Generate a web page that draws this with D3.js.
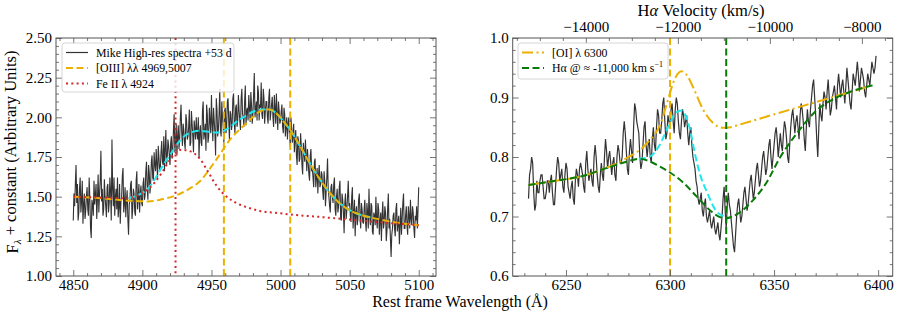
<!DOCTYPE html>
<html>
<head>
<meta charset="utf-8">
<script src="https://cdn.jsdelivr.net/npm/d3@7"></script>
<style>
  body { margin: 0; background: #fff; }
  svg text { font-family: "Liberation Serif", "DejaVu Serif", serif; fill: #000; }
  .axis path, .axis line { stroke: #555; }
</style>
</head>
<body>
<svg id="chart" width="897" height="311"></svg>
<script>
// ---- data ----
const leftStart = 4850;   // whole-Angstrom samples
const leftFlux = [
  1.35, 1.44, 1.70, 1.58, 1.40, 1.62, 1.47, 1.33, 1.52, 1.41,
  1.56, 1.38, 1.49, 1.24, 1.45, 1.60, 1.51, 1.36, 1.64, 1.52,
  1.79, 1.55, 1.42, 1.50, 1.37, 1.58, 1.46, 1.53, 1.86, 1.44,
  1.38, 1.55, 1.62, 1.43, 1.33, 1.50, 1.68, 1.45, 1.37, 1.54,
  1.26, 1.48, 1.60, 1.42, 1.52, 1.38, 1.66, 1.49, 1.40, 1.57,
  1.44, 1.62, 1.51, 1.72, 1.48, 1.65, 1.58, 1.76, 1.60, 1.70,
  1.80, 1.62, 1.75, 1.68, 1.85, 1.70, 1.66, 1.92, 1.74, 1.82,
  1.70, 1.88, 1.79, 2.02, 1.84, 1.76, 1.95, 1.86, 2.08, 1.82,
  1.92, 1.80, 1.98, 1.88, 2.05, 1.84, 1.96, 1.78, 1.93, 2.00,
  1.86, 1.74, 1.95, 1.82, 2.10, 1.90, 1.79, 2.02, 1.88, 1.97,
  2.14, 1.85, 1.98, 1.76, 2.05, 1.92, 2.18, 1.88, 2.00, 1.84,
  2.06, 1.94, 2.12, 1.86, 2.02, 1.96, 2.15, 1.90, 2.08, 1.98,
  2.04, 1.92, 2.18, 2.00, 2.10, 1.95, 2.06, 2.14, 1.97, 2.08,
  2.02, 2.28, 2.05, 1.98, 2.16, 2.08, 2.22, 1.99, 2.12, 2.04,
  2.10, 1.96, 2.18, 2.03, 2.13, 1.94, 2.06, 2.15, 1.92, 2.04,
  1.98, 2.08, 1.90, 2.02, 1.94, 1.86, 2.00, 1.82, 1.94, 1.88,
  1.78, 1.92, 1.70, 1.85, 1.74, 1.82, 1.64, 1.78, 1.86, 1.66,
  1.72, 1.60, 1.80, 1.68, 1.56, 1.74, 1.62, 1.52, 1.70, 1.58,
  1.64, 1.48, 1.60, 1.53, 1.74, 1.50, 1.40, 1.58, 1.46, 1.62,
  1.38, 1.55, 1.44, 1.60, 1.35, 1.48, 1.27, 1.52, 1.42, 1.60,
  1.46, 1.34, 1.56, 1.40, 1.25, 1.44, 1.36, 1.52, 1.30, 1.42,
  1.33, 1.48, 1.28, 1.40, 1.55, 1.32, 1.44, 1.26, 1.38, 1.50,
  1.30, 1.42, 1.35, 1.22, 1.47, 1.34, 1.40, 1.28, 1.52, 1.36,
  1.12, 1.30, 1.40, 1.25, 1.46, 1.33, 1.20, 1.43, 1.36, 1.52,
  1.30, 1.44, 1.26, 1.38, 1.48, 1.32, 1.40, 1.24, 1.35, 1.30,
  1.56
];
// samples at +0.5 A between the whole-Angstrom ones
const leftFluxHalf = [
  1.52, 1.58, 1.46, 1.35, 1.55, 1.40, 1.60, 1.45, 1.36, 1.50,
  1.42, 1.62, 1.30, 1.48, 1.38, 1.45, 1.58, 1.49, 1.40, 1.60,
  1.47, 1.38, 1.61, 1.44, 1.56, 1.40, 1.62, 1.35, 1.55, 1.62,
  1.50, 1.42, 1.37, 1.58, 1.47, 1.63, 1.40, 1.56, 1.48, 1.36,
  1.45, 1.58, 1.36, 1.55, 1.40, 1.60, 1.42, 1.58, 1.52, 1.46,
  1.58, 1.48, 1.66, 1.56, 1.70, 1.52, 1.72, 1.62, 1.78, 1.66,
  1.70, 1.82, 1.66, 1.78, 1.72, 1.88, 1.80, 1.70, 1.86, 1.76,
  1.84, 1.74, 1.92, 1.78, 1.96, 1.88, 1.80, 2.00, 1.90, 1.96,
  1.84, 2.02, 1.86, 1.94, 1.82, 2.04, 1.88, 1.98, 1.86, 1.90,
  2.00, 1.90, 1.84, 2.04, 1.86, 1.96, 2.08, 1.84, 2.06, 1.90,
  1.96, 2.06, 1.90, 2.12, 1.88, 2.02, 1.92, 2.10, 1.94, 2.04,
  1.90, 2.10, 1.98, 2.04, 1.92, 2.12, 1.96, 2.06, 1.94, 2.14,
  1.98, 2.12, 2.02, 1.94, 2.20, 2.04, 1.98, 2.06, 2.16, 1.96,
  2.14, 2.00, 2.10, 2.20, 1.98, 2.06, 2.02, 2.18, 1.96, 2.10,
  2.00, 2.12, 1.98, 2.08, 2.00, 2.14, 1.96, 2.02, 2.10, 1.96,
  2.04, 1.94, 2.06, 1.88, 2.00, 1.96, 1.90, 2.00, 1.84, 1.96,
  1.86, 1.76, 1.88, 1.72, 1.90, 1.70, 1.84, 1.72, 1.76, 1.80,
  1.64, 1.76, 1.66, 1.62, 1.72, 1.56, 1.68, 1.64, 1.56, 1.66,
  1.54, 1.66, 1.44, 1.62, 1.55, 1.44, 1.56, 1.50, 1.58, 1.42,
  1.50, 1.40, 1.56, 1.36, 1.52, 1.40, 1.46, 1.36, 1.50, 1.44,
  1.38, 1.50, 1.30, 1.48, 1.40, 1.32, 1.48, 1.38, 1.46, 1.34,
  1.42, 1.34, 1.46, 1.30, 1.38, 1.46, 1.28, 1.40, 1.32, 1.36,
  1.46, 1.26, 1.40, 1.38, 1.30, 1.44, 1.22, 1.42, 1.30, 1.24,
  1.26, 1.38, 1.30, 1.42, 1.28, 1.38, 1.32, 1.26, 1.46, 1.30,
  1.38, 1.32, 1.44, 1.30, 1.36, 1.44, 1.30, 1.38, 1.44, 1.42
];

const rightStart = 6232;
const rightFlux = [
  0.73, 0.78, 0.79, 0.71, 0.76, 0.74, 0.77, 0.75, 0.73, 0.76,
  0.74, 0.77, 0.72, 0.75, 0.80, 0.76, 0.78, 0.74, 0.79, 0.75,
  0.73, 0.76, 0.72, 0.78, 0.75, 0.79, 0.77, 0.74, 0.81, 0.76,
  0.78, 0.75, 0.82, 0.77, 0.74, 0.79, 0.76, 0.83, 0.78, 0.81,
  0.77, 0.80, 0.76, 0.82, 0.79, 0.80, 0.86, 0.81, 0.77, 0.83,
  0.79, 0.89, 0.86, 0.84, 0.78, 0.82, 0.86, 0.80, 0.83, 0.79,
  0.85, 0.81, 0.88, 0.84, 0.86, 0.90, 0.83, 0.87, 0.85, 0.89,
  0.84, 0.90, 0.86, 0.83, 0.88, 0.85, 0.87, 0.82, 0.85, 0.80,
  0.78, 0.75, 0.72, 0.74, 0.70, 0.73, 0.69, 0.71, 0.68, 0.70,
  0.67, 0.69, 0.66, 0.70, 0.75, 0.68, 0.74, 0.71, 0.67, 0.64,
  0.70, 0.73, 0.69, 0.72, 0.75, 0.71, 0.74, 0.77, 0.73, 0.76,
  0.79, 0.75, 0.78, 0.81, 0.77, 0.80, 0.83, 0.78, 0.82, 0.85,
  0.80, 0.84, 0.81, 0.86, 0.83, 0.79, 0.85, 0.88, 0.84, 0.87,
  0.83, 0.89, 0.86, 0.81, 0.88, 0.85, 0.90, 0.93, 0.87, 0.80,
  0.89, 0.86, 0.91, 0.88, 0.93, 0.87, 0.90, 0.92, 0.88, 0.94,
  0.90, 0.93, 0.89, 0.95, 0.91, 0.88, 0.94, 0.92, 0.96, 0.91,
  0.95, 0.93, 0.90, 0.94, 0.92, 0.96, 0.94, 0.97
];
const rightFluxHalf = [
  0.77, 0.80, 0.74, 0.72, 0.74, 0.76, 0.77, 0.73, 0.74, 0.76,
  0.76, 0.74, 0.72, 0.78, 0.79, 0.77, 0.75, 0.77, 0.78, 0.74,
  0.75, 0.73, 0.76, 0.77, 0.78, 0.78, 0.75, 0.79, 0.78, 0.77,
  0.76, 0.80, 0.80, 0.75, 0.77, 0.77, 0.80, 0.81, 0.80, 0.79,
  0.79, 0.77, 0.80, 0.81, 0.79, 0.84, 0.84, 0.78, 0.81, 0.81,
  0.85, 0.88, 0.85, 0.80, 0.79, 0.85, 0.82, 0.82, 0.80, 0.83,
  0.82, 0.85, 0.87, 0.84, 0.89, 0.86, 0.84, 0.86, 0.88, 0.86,
  0.88, 0.89, 0.84, 0.86, 0.87, 0.86, 0.84, 0.84, 0.82, 0.79,
  0.76, 0.73, 0.73, 0.71, 0.72, 0.70, 0.70, 0.69, 0.69, 0.68,
  0.68, 0.67, 0.68, 0.73, 0.71, 0.72, 0.72, 0.69, 0.65, 0.67,
  0.72, 0.71, 0.70, 0.74, 0.73, 0.72, 0.76, 0.75, 0.74, 0.78,
  0.77, 0.76, 0.80, 0.79, 0.78, 0.82, 0.80, 0.80, 0.84, 0.83,
  0.82, 0.82, 0.84, 0.85, 0.80, 0.82, 0.87, 0.86, 0.86, 0.85,
  0.87, 0.88, 0.83, 0.85, 0.86, 0.88, 0.92, 0.90, 0.83, 0.85,
  0.87, 0.89, 0.90, 0.91, 0.90, 0.88, 0.91, 0.90, 0.92, 0.92,
  0.92, 0.91, 0.92, 0.93, 0.89, 0.91, 0.93, 0.94, 0.94, 0.93,
  0.94, 0.91, 0.92, 0.93, 0.94, 0.95, 0.95
];

// fitted components [wavelength, flux]
const oiiiFit = [[4850,1.50],[4870,1.49],[4890,1.475],[4904,1.47],[4915,1.485],[4925,1.51],[4935,1.555],
  [4942,1.60],[4950,1.69],[4956,1.765],[4963,1.855],[4970,1.92],[4975,1.96],[4981,2.01],[4987,2.045],
  [4992,2.05],[4997,2.025],[5002,1.975],[5007,1.92],[5012,1.85],[5018,1.76],[5024,1.67],[5030,1.59],
  [5036,1.52],[5042,1.465],[5050,1.415],[5060,1.38],[5070,1.36],[5085,1.335],[5100,1.32]];
const feiiFit = [[4850,1.50],[4870,1.495],[4890,1.49],[4897,1.51],[4903,1.54],[4909,1.59],[4914,1.65],
  [4919,1.72],[4924,1.775],[4928,1.795],[4933,1.79],[4938,1.77],[4942,1.735],[4948,1.65],[4954,1.565],
  [4961,1.50],[4968,1.46],[4975,1.435],[4985,1.41],[5000,1.395],[5010,1.385],[5025,1.375],[5044,1.36],
  [5070,1.34],[5100,1.32]];
const leftTotalFit = [[4890,1.49],[4897,1.51],[4904,1.55],[4909,1.61],[4913,1.67],[4917,1.725],[4921,1.775],
  [4926,1.84],[4931,1.885],[4937,1.91],[4942,1.915],[4947,1.91],[4952,1.905],[4956,1.905],[4960,1.92],
  [4965,1.95],[4970,1.985],[4975,2.01],[4980,2.035],[4987,2.05],[4992,2.05],[4997,2.025],[5002,1.975],
  [5007,1.92],[5012,1.85],[5018,1.76],[5024,1.67],[5030,1.59],[5036,1.52],[5042,1.465],[5050,1.415],
  [5060,1.38],[5065,1.37]];

const oiFit = [[6232,0.753],[6245,0.76],[6258,0.768],[6268,0.78],[6275,0.79],[6280,0.80],[6285.6,0.812],
  [6290.4,0.829],[6295.6,0.857],[6299,0.896],[6302,0.929],[6305.6,0.944],[6308,0.938],[6311,0.918],
  [6316,0.879],[6320.7,0.857],[6325.5,0.849],[6329,0.85],[6332,0.853],[6346.5,0.868],[6398,0.921]];
const haFit = [[6232,0.753],[6245,0.76],[6258,0.768],[6270,0.782],[6280,0.793],[6285,0.797],[6290,0.793],
  [6295,0.784],[6300,0.774],[6306,0.758],[6313,0.733],[6320,0.708],[6324,0.699],[6327,0.697],[6330,0.70],
  [6334,0.708],[6340,0.728],[6346,0.755],[6353,0.80],[6361,0.84],[6370,0.877],[6380,0.90],[6387,0.91],
  [6398,0.921]];
const rightTotalFit = [[6285,0.797],[6290,0.80],[6295,0.82],[6299,0.85],[6303,0.875],[6305.5,0.878],
  [6308,0.865],[6310,0.84],[6312,0.805],[6314.5,0.77],[6318,0.739],[6322,0.71],[6326,0.70],[6328,0.697]];

const feiiLine = [4924];
const oiiiLines = [4959, 5007];
const oiLine = [6300];
const haLine = [6327];

const leftXTicks = [4850, 4900, 4950, 5000, 5050, 5100];
const leftYTicks = [1.00, 1.25, 1.50, 1.75, 2.00, 2.25, 2.50];
const rightXTicks = [6250, 6300, 6350, 6400];
const rightYTicks = [0.6, 0.7, 0.8, 0.9, 1.0];
const velTicks = [-14000, -12000, -10000, -8000];

const leftLegend = ['Mike High-res spectra +53 d', '[OIII] λλ 4969,5007', 'Fe II λ 4924'];

// ---- layout ----
const plotTop = 38, plotBottom = 276;
const orange = '#ebb000', red = '#d62728', cyan = '#1ee8ee', green = '#077a07', specColor = '#333';

const svg = d3.select('#chart');

const xL = d3.scaleLinear().domain([4837.5, 5112.5]).range([56, 436]);
const yL = d3.scaleLinear().domain([1.0, 2.5]).range([plotBottom, plotTop]);
const xR = d3.scaleLinear().domain([6224.4, 6407]).range([512.7, 892.7]);
const yR = d3.scaleLinear().domain([0.6, 1.0]).range([plotBottom, plotTop]);
const vTop = d3.scaleLinear().domain([-15590, -7330]).range([512.7, 892.7]);

function minorTicks(scale, step, majors) {
  const [a, b] = scale.domain();
  return d3.range(Math.ceil(a / step) * step, b, step)
    .filter(t => !majors.some(m => Math.abs(m - t) < step / 10));
}

function interleave(start, whole, half) {
  const out = [];
  whole.forEach((f, i) => {
    out.push([start + i, f]);
    if (i < half.length) out.push([start + i + 0.5, half[i]]);
  });
  return out;
}

function addAxis(axisFn, scale, pos, vals, size, fmt, pad) {
  const g = svg.append('g').attr('class', 'axis').attr('transform', pos);
  g.call(axisFn(scale).tickValues(vals).tickSizeInner(-size).tickSizeOuter(0)
    .tickPadding(pad || 4).tickFormat(fmt || (() => '')));
  g.select('.domain').remove();
  g.selectAll('text').attr('font-size', 15).attr('fill', '#000');
  g.selectAll('line').attr('stroke-width', 0.8);
  return g;
}

function frame(x, y, xt, xmin, yt, ymin, yfmt, withTop) {
  const [x0, x1] = x.range();
  const yMinor = minorTicks(y, ymin, yt);
  const xMinor = minorTicks(x, xmin, xt);
  addAxis(d3.axisBottom, x, `translate(0,${plotBottom})`, xt, 6, d3.format('d'), 3);
  addAxis(d3.axisBottom, x, `translate(0,${plotBottom})`, xMinor, 3);
  if (withTop) {
    addAxis(d3.axisTop, x, `translate(0,${plotTop})`, xt, 6);
    addAxis(d3.axisTop, x, `translate(0,${plotTop})`, xMinor, 3);
  }
  addAxis(d3.axisLeft, y, `translate(${x0},0)`, yt, 6, d3.format(yfmt), 4);
  addAxis(d3.axisLeft, y, `translate(${x0},0)`, yMinor, 3);
  addAxis(d3.axisRight, y, `translate(${x1},0)`, yt, 6);
  addAxis(d3.axisRight, y, `translate(${x1},0)`, yMinor, 3);
  svg.append('rect').attr('x', x0).attr('y', plotTop).attr('width', x1 - x0).attr('height', plotBottom - plotTop)
    .attr('fill', 'none').attr('stroke', '#555').attr('stroke-width', 1);
}

function drawLine(pts, x, y, color, width, dash, curve) {
  const line = d3.line().x(d => x(d[0])).y(d => y(d[1]));
  if (curve) line.curve(d3.curveMonotoneX);
  svg.append('path').datum(pts).attr('d', line).attr('fill', 'none')
    .attr('stroke', color).attr('stroke-width', width)
    .attr('stroke-dasharray', dash || null);
}

function vLines(vals, x, color, dash) {
  svg.append('g').selectAll('line').data(vals).join('line')
    .attr('x1', d => x(d)).attr('x2', d => x(d)).attr('y1', plotTop).attr('y2', plotBottom)
    .attr('stroke', color).attr('stroke-width', 2).attr('stroke-dasharray', dash);
}

const dashed = '7,3.5';
const dotted = '2,3.3';
const dashdot = '11,3.5,2,3.5';

// ---- left panel ----
drawLine(interleave(leftStart, leftFlux, leftFluxHalf), xL, yL, specColor, 1.1);
drawLine(leftTotalFit, xL, yL, cyan, 2, dashed, true);
drawLine(oiiiFit, xL, yL, orange, 2, dashed, true);
drawLine(feiiFit, xL, yL, red, 2, dotted, true);
vLines(feiiLine, xL, red, dotted);
vLines(oiiiLines, xL, orange, dashed);
frame(xL, yL, leftXTicks, 10, leftYTicks, 0.05, '.2f', true);

// ---- right panel ----
drawLine(interleave(rightStart, rightFlux, rightFluxHalf), xR, yR, specColor, 1.2);
drawLine(rightTotalFit, xR, yR, cyan, 2, dashed, true);
drawLine(oiFit, xR, yR, orange, 2, dashdot, true);
drawLine(haFit, xR, yR, green, 2, dashed, true);
vLines(oiLine, xR, orange, dashed);
vLines(haLine, xR, green, dashed);
frame(xR, yR, rightXTicks, 10, rightYTicks, 0.02, '.1f', false);
addAxis(d3.axisTop, vTop, `translate(0,${plotTop})`, velTicks, 6, d3.format('d'), 6);
addAxis(d3.axisTop, vTop, `translate(0,${plotTop})`, minorTicks(vTop, 500, velTicks), 3);

// ---- legends ----
function legend(x, y, w, h, rows) {
  const g = svg.append('g');
  g.append('rect').attr('x', x).attr('y', y).attr('width', w).attr('height', h).attr('rx', 3)
    .attr('fill', '#fff').attr('fill-opacity', 0.8).attr('stroke', '#ccc').attr('stroke-width', 0.8);
  rows.forEach((r, i) => {
    const cy = y + 9.5 + i * 15.5;
    g.append('line').attr('x1', x + 4).attr('x2', x + 26).attr('y1', cy).attr('y2', cy)
      .attr('stroke', r.color).attr('stroke-width', r.width).attr('stroke-dasharray', r.dash || null);
    const t = g.append('text').attr('x', x + 34).attr('y', cy).attr('dy', '0.35em').attr('font-size', 11.8);
    r.text(t);
  });
}

legend(62, 43, 172, 49, [
  { color: specColor, width: 1.2, text: t => t.text(leftLegend[0]) },
  { color: orange, width: 2, dash: dashed, text: t => t.text(leftLegend[1]) },
  { color: red, width: 2, dash: dotted, text: t => t.text(leftLegend[2]) }
]);
legend(518, 43, 150, 36, [
  { color: orange, width: 2, dash: dashdot, text: t => t.text('[OI] λ 6300') },
  { color: green, width: 2, dash: dashed, text: t => {
      t.append('tspan').text('Hα @ ≈ -11,000 km s');
      t.append('tspan').attr('dy', '-0.7em').attr('font-size', 8).text('−1');
    } }
]);

// ---- axis labels ----
svg.append('text').attr('x', 460).attr('y', 307).attr('text-anchor', 'middle').attr('font-size', 16)
  .text('Rest frame Wavelength (Å)');

const vt = svg.append('text').attr('x', 701).attr('y', 16).attr('text-anchor', 'middle').attr('font-size', 16.5);
vt.append('tspan').text('H');
vt.append('tspan').attr('font-style', 'italic').text('α');
vt.append('tspan').text(' Velocity (km/s)');

const yt = svg.append('text').attr('transform', 'translate(18,152) rotate(-90)')
  .attr('text-anchor', 'middle').attr('font-size', 16.5);
yt.append('tspan').text('F');
yt.append('tspan').attr('font-size', 11).attr('dy', '0.3em').attr('font-style', 'italic').text('λ');
yt.append('tspan').attr('dy', '-0.3em').text(' + constant (Arbitrary Units)');
</script>
</body>
</html>
